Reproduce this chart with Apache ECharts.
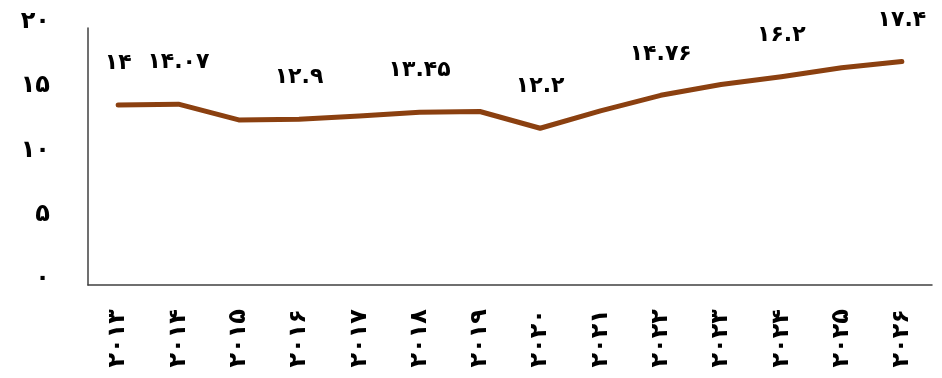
<!DOCTYPE html>
<html>
<head>
<meta charset="utf-8">
<script src="https://cdn.jsdelivr.net/npm/echarts@6/dist/echarts.min.js"></script>
<style>
  html, body { margin: 0; padding: 0; background: #fff; }
  #chart { width: 942px; height: 378px; }
</style>
</head>
<body>
<div id="chart"></div>
<script>
// Years on the category axis
const years = [2013, 2014, 2015, 2016, 2017, 2018, 2019, 2020, 2021, 2022, 2023, 2024, 2025, 2026];
// Yearly values of the series
const values = [14, 14.07, 12.85, 12.9, 13.15, 13.45, 13.5, 12.2, 13.55, 14.76, 15.6, 16.2, 16.9, 17.4];
// Years whose value is written above the line
const labeledYears = [2013, 2014, 2016, 2018, 2020, 2022, 2024, 2026];
// Value axis ticks
const yTicks = [0, 5, 10, 15, 20];

const faDigits = '۰۱۲۳۴۵۶۷۸۹';
function toFa(v) {
  return String(v).replace(/[0-9]/g, d => faDigits[+d]);
}

const chart = echarts.init(document.getElementById('chart'));
chart.setOption({
  animation: false,
  grid: { left: 88, right: 10, top: 28, bottom: 93 },
  xAxis: {
    type: 'category',
    data: years.map(String),
    boundaryGap: true,
    axisLine: { lineStyle: { color: '#404040', width: 1.5 } },
    axisTick: { show: false },
    axisLabel: {
      rotate: 90,
      margin: 24,
      interval: 0,
      color: '#000',
      fontFamily: 'DejaVu Sans',
      fontWeight: 'bold',
      fontSize: 24,
      formatter: v => toFa(v)
    }
  },
  yAxis: {
    type: 'value',
    min: yTicks[0],
    max: yTicks[yTicks.length - 1],
    interval: 5,
    splitLine: { show: false },
    axisLine: { show: true, lineStyle: { color: '#404040', width: 1.5 } },
    axisTick: { show: false },
    axisLabel: {
      margin: 38,
      color: '#000',
      fontFamily: 'DejaVu Sans',
      fontWeight: 'bold',
      fontSize: 24,
      verticalAlign: 'bottom',
      lineHeight: 12,
      formatter: v => toFa(v)
    }
  },
  series: [{
    type: 'line',
    data: values.map((v, i) => ({
      value: v,
      label: { show: labeledYears.includes(years[i]) }
    })),
    showSymbol: true,
    showAllSymbol: true,
    symbol: 'circle',
    symbolSize: 1,
    itemStyle: { color: 'rgba(0,0,0,0)' },
    lineStyle: { color: '#8B4010', width: 5, cap: 'round', join: 'round' },
    label: {
      show: false,
      position: 'top',
      distance: 30,
      color: '#000',
      fontFamily: 'DejaVu Sans',
      fontWeight: 'bold',
      fontSize: 22,
      formatter: p => toFa(p.value)
    }
  }]
});
</script>
</body>
</html>
